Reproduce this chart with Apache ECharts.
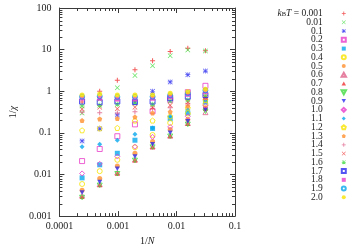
<!DOCTYPE html>
<html><head><meta charset="utf-8">
<script src="https://cdn.jsdelivr.net/npm/echarts@6/dist/echarts.min.js"></script>
<style>html,body{margin:0;padding:0;background:#fff}#c{width:358px;height:251px}</style>
</head><body><div id="c"></div>
<script>
// x values: 1/N for N = 4096 ... 32
const invN = [1/4096, 1/2048, 1/1024, 1/512, 1/256, 1/128, 1/64, 1/32];

// temperature labels (legend)
const temps = ['0.001','0.01','0.1','0.2','0.3','0.4','0.5','0.6','0.7','0.8','0.9','1.0','1.1','1.2','1.3','1.4','1.5','1.6','1.7','1.8','1.9','2.0'];

// 1/chi values, one array per temperature
const t0001 = [0.55, 1.0, 1.83, 3.3, 5.4, 9.0, 10.8, 9.4];
const t001  = [0.30, 0.64, 1.21, 2.4, 4.1, 7.1, 9.8, 9.3];
const t01   = [0.064, 0.125, 0.27, 0.55, 1.0, 1.67, 2.5, 3.05];
const t02   = [0.021, 0.041, 0.083, 0.16, 0.33, 0.62, 0.95, 1.35];
const t03   = [0.0083, 0.0171, 0.0323, 0.0666, 0.128, 0.22, 0.30, 0.55];
const t04   = [0.0059, 0.012, 0.0225, 0.045, 0.089, 0.174, 0.29, 0.49];
const t05   = [0.0042, 0.008, 0.0159, 0.0323, 0.062, 0.12, 0.21, 0.40];
const t06   = [0.0031, 0.0058, 0.011, 0.0225, 0.0465, 0.085, 0.17, 0.31];
const t07   = [0.0029, 0.0056, 0.0106, 0.022, 0.046, 0.084, 0.165, 0.38];
const t08   = [0.0028, 0.0055, 0.0104, 0.0218, 0.0455, 0.083, 0.16, 0.33];
const t09   = [0.0037, 0.0066, 0.0138, 0.027, 0.053, 0.10, 0.19, 0.36];
const t10   = [0.0106, 0.018, 0.027, 0.0465, 0.08, 0.139, 0.25, 0.45];
const t11   = [0.0465, 0.0536, 0.0666, 0.092, 0.13, 0.25, 0.36, 0.58];
const t12   = [0.115, 0.128, 0.131, 0.197, 0.197, 0.25, 0.40, 0.62];
const t13   = [0.197, 0.216, 0.22, 0.24, 0.30, 0.32, 0.44, 0.71];
const t14   = [0.311, 0.305, 0.30, 0.32, 0.39, 0.40, 0.50, 0.66];
const t15   = [0.372, 0.415, 0.38, 0.41, 0.40, 0.46, 0.55, 0.72];
const t16   = [0.445, 0.46, 0.49, 0.52, 0.49, 0.59, 0.62, 0.78];
const t17   = [0.565, 0.545, 0.57, 0.55, 0.565, 0.68, 0.74, 0.81];
const t18   = [0.68, 0.68, 0.65, 0.65, 0.68, 0.74, 0.84, 0.97];
const t19   = [0.74, 0.76, 0.73, 0.73, 0.74, 0.80, 0.90, 1.05];
const t20   = [0.81, 0.855, 0.81, 0.81, 0.81, 0.89, 0.97, 1.12];
const values = [t0001,t001,t01,t02,t03,t04,t05,t06,t07,t08,t09,t10,t11,t12,t13,t14,t15,t16,t17,t18,t19,t20];

// tick labels
const xTickLabels = ['0.0001','0.001','0.01','0.1'];
const yTickLabels = ['0.001','0.01','0.1','1','10','100'];
const xMinorTicks = [2e-4,3e-4,4e-4,5e-4,6e-4,7e-4,8e-4,9e-4,2e-3,3e-3,4e-3,5e-3,6e-3,7e-3,8e-3,9e-3,2e-2,3e-2,4e-2,5e-2,6e-2,7e-2,8e-2,9e-2];
const yMinorTicks = [2e-3,3e-3,4e-3,5e-3,6e-3,7e-3,8e-3,9e-3,2e-2,3e-2,4e-2,5e-2,6e-2,7e-2,8e-2,9e-2,0.2,0.3,0.4,0.5,0.6,0.7,0.8,0.9,2,3,4,5,6,7,8,9,20,30,40,50,60,70,80,90];

// styles
const palette = ['#f03232','#40dc40','#2a2af0','#e83cc8','#08a8ec','#f8e400','#ff9030','#e0608a'];
const P_PLUS  = 'path://M4,0H6V4H10V6H6V10H4V6H0V4H4Z';
const P_CROSS = 'path://M1,0L5,4L9,0L10,1L6,5L10,9L9,10L5,6L1,10L0,9L4,5L0,1Z';
const P_STAR  = 'path://M4.3,0H5.7V4.3H10V5.7H5.7V10H4.3V5.7H0V4.3H4.3Z M1,0L5,4L9,0L10,1L6,5L10,9L9,10L5,6L1,10L0,9L4,5L0,1Z';
const P_RECT  = 'path://M0,0H10V10H0Z';
const P_TRI   = 'path://M5,0L10,9L0,9Z';
const P_INVTRI = 'path://M0,0L10,0L5,9Z';
const P_DIAM  = 'path://M5,0L10,5L5,10L0,5Z';
const P_PENT  = 'path://M5,0L10,3.8L8.1,10L1.9,10L0,3.8Z';
// [symbol, filled?]
const shapes = [
  [P_PLUS,true],[P_CROSS,true],[P_STAR,true],[P_RECT,false],[P_RECT,true],['circle',false],['circle',true],
  [P_TRI,false],[P_TRI,true],[P_INVTRI,false],[P_INVTRI,true],[P_DIAM,false],[P_DIAM,true],
  [P_PENT,false],[P_PENT,true]
];
const FRAME = '#3a3a3a';
const FONT = 'Liberation Serif';

const series = temps.map((t, i) => {
  const shp = shapes[i % 15];
  const col = palette[i % 8];
  const itemStyle = shp[1] ? { color: col } : { color: 'rgba(0,0,0,0)', borderColor: col, borderWidth: 1 };
  return {
    type: 'scatter', name: t, symbol: shp[0], symbolSize: 5, symbolKeepAspect: true,
    itemStyle: itemStyle, emphasis: { disabled: true },
    data: invN.map((x, j) => [x, values[i][j]]), z: 3
  };
});

// minor ticks (gnuplot style, inside, all four sides)
series.push({
  type: 'custom', silent: true, z: 2, xAxisIndex: 0, yAxisIndex: 0,
  data: xMinorTicks.map(v => [v, 1]),
  renderItem: (params, api) => {
    const cs = params.coordSys;
    const px = Math.round(api.coord([api.value(0), 1])[0]) + 0.5;
    const st = { stroke: FRAME, lineWidth: 1 };
    return { type: 'group', children: [
      { type: 'line', shape: { x1: px, y1: cs.y + cs.height, x2: px, y2: cs.y + cs.height - 3 }, style: st },
      { type: 'line', shape: { x1: px, y1: cs.y, x2: px, y2: cs.y + 3 }, style: st }
    ]};
  }
});
series.push({
  type: 'custom', silent: true, z: 2, xAxisIndex: 0, yAxisIndex: 0,
  data: yMinorTicks.map(v => [0.001, v]),
  renderItem: (params, api) => {
    const cs = params.coordSys;
    const py = Math.round(api.coord([0.001, api.value(1)])[1]) + 0.5;
    const st = { stroke: FRAME, lineWidth: 1 };
    return { type: 'group', children: [
      { type: 'line', shape: { x1: cs.x, y1: py, x2: cs.x + 3, y2: py }, style: st },
      { type: 'line', shape: { x1: cs.x + cs.width, y1: py, x2: cs.x + cs.width - 3, y2: py }, style: st }
    ]};
  }
});

const lh = 8.75;
const option = {
  animation: false,
  backgroundColor: '#fff',
  grid: { left: 48, right: 123, top: 8, bottom: 31 },
  xAxis: [
    { type: 'log', logBase: 10, min: 0.0001, max: 0.1, position: 'bottom',
      name: '1/{i|N}', nameLocation: 'middle', nameGap: 19,
      nameTextStyle: { fontFamily: FONT, fontSize: 10, color: '#222', rich: { i: { fontFamily: FONT, fontStyle: 'italic', fontSize: 10, color: '#222' } } },
      axisLine: { show: true, lineStyle: { color: FRAME, width: 1 } },
      axisTick: { show: true, inside: true, length: 5, lineStyle: { color: FRAME } },
      minorTick: { show: false }, splitLine: { show: false },
      axisLabel: { fontFamily: FONT, fontSize: 10, color: '#222', margin: 5,
        formatter: v => xTickLabels[Math.round(Math.log10(v)) + 4] } },
    { type: 'log', logBase: 10, min: 0.0001, max: 0.1, position: 'top',
      axisLine: { show: true, lineStyle: { color: FRAME, width: 1 } },
      axisTick: { show: true, inside: true, length: 5, lineStyle: { color: FRAME } },
      axisLabel: { show: false }, splitLine: { show: false } }
  ],
  yAxis: [
    { type: 'log', logBase: 10, min: 0.001, max: 100, position: 'left',
      name: '1/{i|χ}', nameLocation: 'middle', nameGap: 41, nameRotate: 90,
      nameTextStyle: { fontFamily: FONT, fontSize: 10, color: '#222', rich: { i: { fontFamily: FONT, fontStyle: 'italic', fontSize: 10, color: '#222' } } },
      axisLine: { show: true, lineStyle: { color: FRAME, width: 1 } },
      axisTick: { show: true, inside: true, length: 5, lineStyle: { color: FRAME } },
      minorTick: { show: false }, splitLine: { show: false },
      axisLabel: { fontFamily: FONT, fontSize: 10, color: '#222', margin: 8,
        formatter: v => yTickLabels[Math.round(Math.log10(v)) + 3] } },
    { type: 'log', logBase: 10, min: 0.001, max: 100, position: 'right',
      axisLine: { show: true, lineStyle: { color: FRAME, width: 1 } },
      axisTick: { show: true, inside: true, length: 5, lineStyle: { color: FRAME } },
      axisLabel: { show: false }, splitLine: { show: false } }
  ],
  legend: {
    orient: 'vertical', right: 11, top: 8.6, align: 'right',
    itemWidth: 32, itemHeight: 4, itemGap: -1.25, padding: 0, symbolKeepAspect: true,
    data: temps, selectedMode: false,
    formatter: name => name === temps[0] ? '{i|k}{s|B}{i|T} = ' + name : name,
    textStyle: { fontFamily: FONT, fontSize: 9.5, color: '#222', lineHeight: lh,
      rich: {
        i: { fontFamily: FONT, fontStyle: 'italic', fontSize: 9.5, color: '#222', lineHeight: lh },
        s: { fontFamily: FONT, fontSize: 6.5, color: '#222', lineHeight: lh, verticalAlign: 'bottom' }
      } }
  },
  series: series
};
const chart = echarts.init(document.getElementById('c'), null, { renderer: 'canvas' });
chart.setOption(option);
</script>
</body></html>
